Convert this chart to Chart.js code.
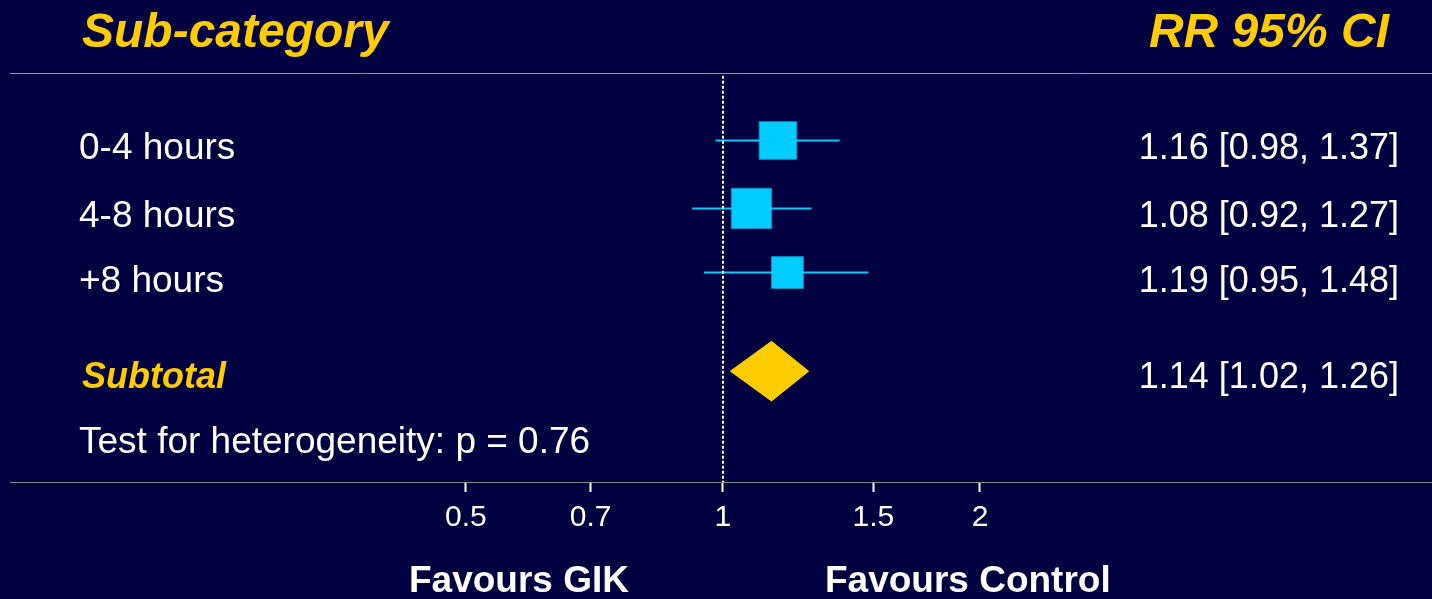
<!DOCTYPE html>
<html>
<head>
<meta charset="utf-8">
<script src="https://cdn.jsdelivr.net/npm/chart.js@4.4.1/dist/chart.umd.min.js"></script>
<style>
  html, body { margin: 0; padding: 0; background: #000040; }
  #wrap { width: 1432px; height: 599px; }
</style>
</head>
<body>
<div id="wrap"><canvas id="forest" width="1432" height="599"></canvas></div>
<script>
  // data
  const SUBGROUPS = ['0-4 hours', '4-8 hours', '+8 hours'];
  const RR = [1.16, 1.08, 1.19];
  const CI_LOW = [0.98, 0.92, 0.95];
  const CI_HIGH = [1.37, 1.27, 1.48];
  const WEIGHTS = [35, 40, 25];
  const SUBTOTAL = { label: 'Subtotal', rr: 1.14, low: 1.02, high: 1.26 };
  const HET_P = 0.76;
  const X_TICKS = [0.5, 0.7, 1, 1.5, 2];

  // layout rows (y scale runs 0..10 top to bottom)
  const ROW_Y = [1.65, 3.31, 4.88];
  const SUB_Y = 7.29;
  const HET_Y = 8.85;
  const DIAMOND_H = 0.73;

  const CYAN = '#00ccff';
  const YELLOW = '#ffcc00';
  const FONT = '"Liberation Sans", Arial, sans-serif';

  const fmt = (v) => v.toFixed(2);

  const whiskers = SUBGROUPS.map((name, i) => ({
    type: 'line',
    data: [{ x: CI_LOW[i], y: ROW_Y[i] }, { x: CI_HIGH[i], y: ROW_Y[i] }],
    borderColor: CYAN,
    borderWidth: 2,
    pointRadius: 0,
    fill: false
  }));

  const squares = {
    type: 'scatter',
    data: RR.map((v, i) => ({ x: v, y: ROW_Y[i] })),
    pointStyle: 'rect',
    pointRadius: WEIGHTS.map((w) => Math.sqrt(w) * 6.37 / (2 * Math.SQRT1_2)),
    backgroundColor: CYAN,
    borderColor: '#0090c0',
    borderWidth: 1
  };

  const diamond = {
    type: 'line',
    data: [
      { x: SUBTOTAL.low, y: SUB_Y },
      { x: SUBTOTAL.rr, y: SUB_Y - DIAMOND_H },
      { x: SUBTOTAL.high, y: SUB_Y },
      { x: SUBTOTAL.rr, y: SUB_Y + DIAMOND_H },
      { x: SUBTOTAL.low, y: SUB_Y }
    ],
    borderColor: YELLOW,
    backgroundColor: YELLOW,
    borderWidth: 1,
    pointRadius: 0,
    tension: 0,
    fill: 'shape'
  };

  const noEffect = {
    type: 'line',
    data: [{ x: 1, y: 0.07 }, { x: 1, y: 10 }],
    borderColor: '#ffffff',
    borderWidth: 2,
    borderDash: [3, 2],
    pointRadius: 0,
    fill: false
  };

  const textPlugin = {
    id: 'forestText',
    afterDraw(chart) {
      const ctx = chart.ctx;
      const xs = chart.scales.x;
      const ys = chart.scales.y;
      const left = chart.chartArea.left;
      const right = chart.chartArea.right;
      ctx.save();

      // top rule
      ctx.strokeStyle = '#9090b8';
      ctx.lineWidth = 1;
      ctx.beginPath();
      ctx.moveTo(left, 73.5);
      ctx.lineTo(right, 73.5);
      ctx.stroke();

      ctx.textBaseline = 'alphabetic';
      ctx.fillStyle = YELLOW;
      ctx.font = 'italic bold 48px ' + FONT;
      ctx.textAlign = 'left';
      ctx.fillText('Sub-category', 82, 47);
      ctx.textAlign = 'right';
      ctx.fillText('RR 95% CI', 1389, 47);

      ctx.fillStyle = '#ffffff';
      SUBGROUPS.forEach((name, i) => {
        const y = ys.getPixelForValue(ROW_Y[i]) + 19;
        ctx.font = '37px ' + FONT;
        ctx.textAlign = 'left';
        ctx.fillText(name, 79, y);
        ctx.font = '36px ' + FONT;
        ctx.textAlign = 'right';
        ctx.fillText(`${fmt(RR[i])} [${fmt(CI_LOW[i])}, ${fmt(CI_HIGH[i])}]`, 1399, y);
      });

      const sy = ys.getPixelForValue(SUB_Y) + 17;
      ctx.font = '36px ' + FONT;
      ctx.textAlign = 'right';
      ctx.fillText(`${fmt(SUBTOTAL.rr)} [${fmt(SUBTOTAL.low)}, ${fmt(SUBTOTAL.high)}]`, 1399, sy);
      ctx.textAlign = 'left';
      ctx.fillStyle = YELLOW;
      ctx.font = 'italic bold 36px ' + FONT;
      ctx.fillText(SUBTOTAL.label, 82, sy);

      ctx.fillStyle = '#ffffff';
      ctx.font = '37px ' + FONT;
      ctx.fillText('Test for heterogeneity: p = ' + HET_P, 79, ys.getPixelForValue(HET_Y) + 18);

      const x1 = xs.getPixelForValue(1);
      ctx.font = 'bold 37px ' + FONT;
      ctx.textAlign = 'right';
      ctx.fillText('Favours GIK', x1 - 94, 592);
      ctx.textAlign = 'left';
      ctx.fillText('Favours Control', x1 + 102, 592);
      ctx.restore();
    }
  };

  new Chart(document.getElementById('forest'), {
    type: 'scatter',
    data: { datasets: [noEffect, ...whiskers, diamond, squares] },
    options: {
      responsive: false,
      animation: false,
      events: [],
      layout: { autoPadding: false, padding: { top: 73, left: 10, right: 0, bottom: 0 } },
      plugins: { legend: { display: false }, tooltip: { enabled: false } },
      scales: {
        x: {
          type: 'logarithmic',
          min: 0.1462,
          max: 6.768,
          afterBuildTicks: (scale) => { scale.ticks = X_TICKS.map((v) => ({ value: v })); },
          afterFit: (scale) => { scale.height = 117; },
          ticks: {
            autoSkip: false,
            maxRotation: 0,
            color: '#ffffff',
            padding: 8,
            font: { family: FONT, size: 30 },
            callback: (v) => String(v)
          },
          grid: {
            drawOnChartArea: false,
            drawTicks: true,
            tickLength: 10,
            tickColor: '#ffffff',
            tickWidth: 2
          },
          border: { display: true, color: '#888888', width: 1 }
        },
        y: {
          type: 'linear',
          min: 0,
          max: 10,
          reverse: true,
          display: false
        }
      }
    },
    plugins: [textPlugin]
  });
</script>
</body>
</html>
